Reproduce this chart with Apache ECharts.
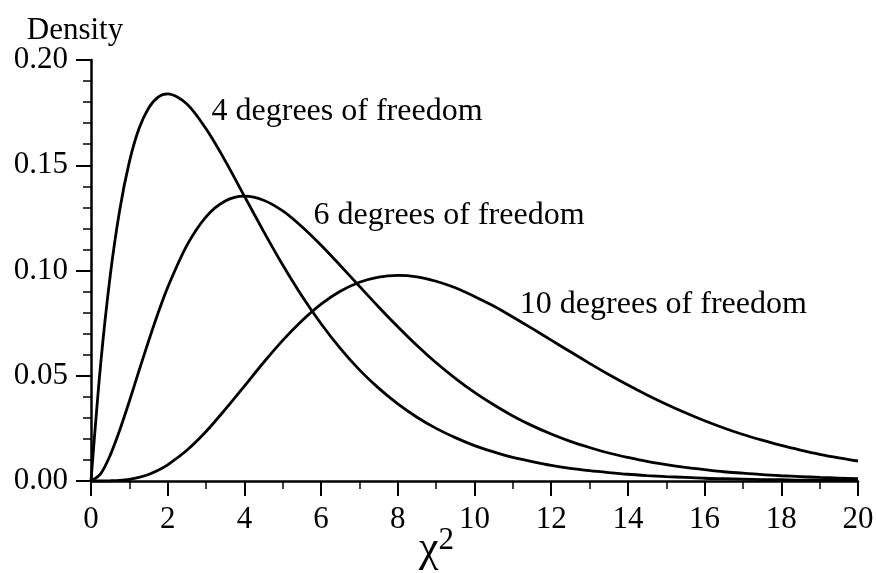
<!DOCTYPE html>
<html>
<head>
<meta charset="utf-8">
<script src="https://cdn.jsdelivr.net/npm/echarts@6/dist/echarts.min.js"></script>
<style>
html,body{margin:0;padding:0;background:#fff;}
#chart{width:876px;height:573px;}
</style>
</head>
<body>
<div id="chart"></div>
<script>
// x positions (chi-square values)
const xs = [0,0.25,0.5,0.75,1,1.25,1.5,1.75,2,2.5,3,3.5,4,4.5,5,5.5,6,6.5,7,7.5,8,8.5,9,9.5,10,
            10.5,11,11.5,12,12.5,13,13.5,14,14.5,15,15.5,16,16.5,17,17.5,18,18.5,19,19.5,20];
// density values
const df4 = [0,0.0552,0.0974,0.1289,0.1516,0.1673,0.1771,0.1824,0.1839,0.1791,0.1673,0.1521,0.1353,0.1186,0.1026,0.0879,0.0747,0.0630,0.0528,0.0441,0.0366,0.0303,0.0250,0.0206,0.0168,
             0.0138,0.0112,0.0092,0.0074,0.0060,0.0049,0.0040,0.0032,0.0026,0.0021,0.0017,0.0013,0.0011,0.0009,0.0007,0.0006,0.0004,0.0004,0.0003,0.0002];
const df6 = [0,0.0034,0.0122,0.0242,0.0379,0.0523,0.0664,0.0798,0.0920,0.1119,0.1255,0.1330,0.1353,0.1334,0.1283,0.1208,0.1120,0.1024,0.0925,0.0827,0.0733,0.0644,0.0562,0.0488,0.0421,
             0.0362,0.0309,0.0263,0.0223,0.0188,0.0159,0.0133,0.0112,0.0093,0.0078,0.0065,0.0054,0.0044,0.0037,0.0030,0.0025,0.0021,0.0017,0.0014,0.0011];
const df10 = [0,0.0000,0.0001,0.0003,0.0008,0.0017,0.0031,0.0051,0.0077,0.0146,0.0235,0.0340,0.0451,0.0563,0.0668,0.0761,0.0840,0.0901,0.0944,0.0969,0.0977,0.0970,0.0949,0.0918,0.0877,
              0.0831,0.0779,0.0725,0.0669,0.0614,0.0559,0.0506,0.0456,0.0409,0.0365,0.0324,0.0286,0.0252,0.0221,0.0194,0.0169,0.0147,0.0127,0.0110,0.0095];
const seriesNames = ['4 degrees of freedom','6 degrees of freedom','10 degrees of freedom'];
const seriesValues = [df4, df6, df10];
// label anchors in data units (x, density)
const labelAnchors = [[3.13,0.1753],[5.79,0.1260],[11.17,0.0840]];

const FONT = '"Liberation Serif","Times New Roman",serif';
const chart = echarts.init(document.getElementById('chart'), null, {renderer:'canvas'});
const series = seriesValues.map((vals, i) => ({
  name: seriesNames[i],
  type: 'line',
  data: xs.map((x, j) => [x, vals[j]]),
  showSymbol: false,
  symbol: 'none',
  smooth: 0.3,
  lineStyle: {color:'#000', width:2.8},
  z: 3,
  markPoint: {
    symbol: 'circle', symbolSize: 1,
    itemStyle: {color:'rgba(0,0,0,0)'},
    label: {show:true, position:'right', distance:0, formatter: seriesNames[i],
            color:'#000', fontFamily: FONT, fontSize: 32},
    data: [{coord: labelAnchors[i]}]
  }
}));

chart.setOption({
  animation: false,
  backgroundColor: '#fff',
  grid: {left: 91, right: 18, top: 60, bottom: 92, containLabel: false, outerBoundsMode: 'none'},
  xAxis: {
    type: 'value', min: 0, max: 20, interval: 2,
    name: '{a|χ}{b|2}', nameLocation: 'middle', nameGap: 44, nameMoveOverlap: false,
    nameTextStyle: {padding:[0,76,0,0], rich: {
      a: {fontFamily: FONT, fontSize: 44, color:'#000', verticalAlign:'bottom', lineHeight: 46},
      b: {fontFamily: FONT, fontSize: 31, color:'#000', verticalAlign:'top', lineHeight: 46}
    }},
    axisLine: {show:true, onZero:false, lineStyle:{color:'#000', width:2.5}},
    axisTick: {show:true, inside:false, length:15, lineStyle:{color:'#000', width:2}},
    minorTick: {show:true, splitNumber:2, length:8, lineStyle:{color:'#000', width:1.5}},
    axisLabel: {color:'#000', fontFamily: FONT, fontSize: 31, margin: 23},
    splitLine: {show:false}
  },
  yAxis: {
    type: 'value', min: 0, max: 0.2, interval: 0.05,
    name: 'Density', nameLocation: 'end', nameGap: 14, nameMoveOverlap: false,
    nameTextStyle: {color:'#000', fontFamily: FONT, fontSize: 31, align:'center', padding:[0,32,0,0]},
    axisLine: {show:true, onZero:false, lineStyle:{color:'#000', width:2.5}},
    axisTick: {show:true, inside:false, length:15, lineStyle:{color:'#000', width:2}},
    minorTick: {show:true, splitNumber:5, length:8, lineStyle:{color:'#000', width:1.5}},
    axisLabel: {color:'#000', fontFamily: FONT, fontSize: 31, margin: 23,
                formatter: v => v.toFixed(2)},
    splitLine: {show:false}
  },
  series: series
});
</script>
</body>
</html>
